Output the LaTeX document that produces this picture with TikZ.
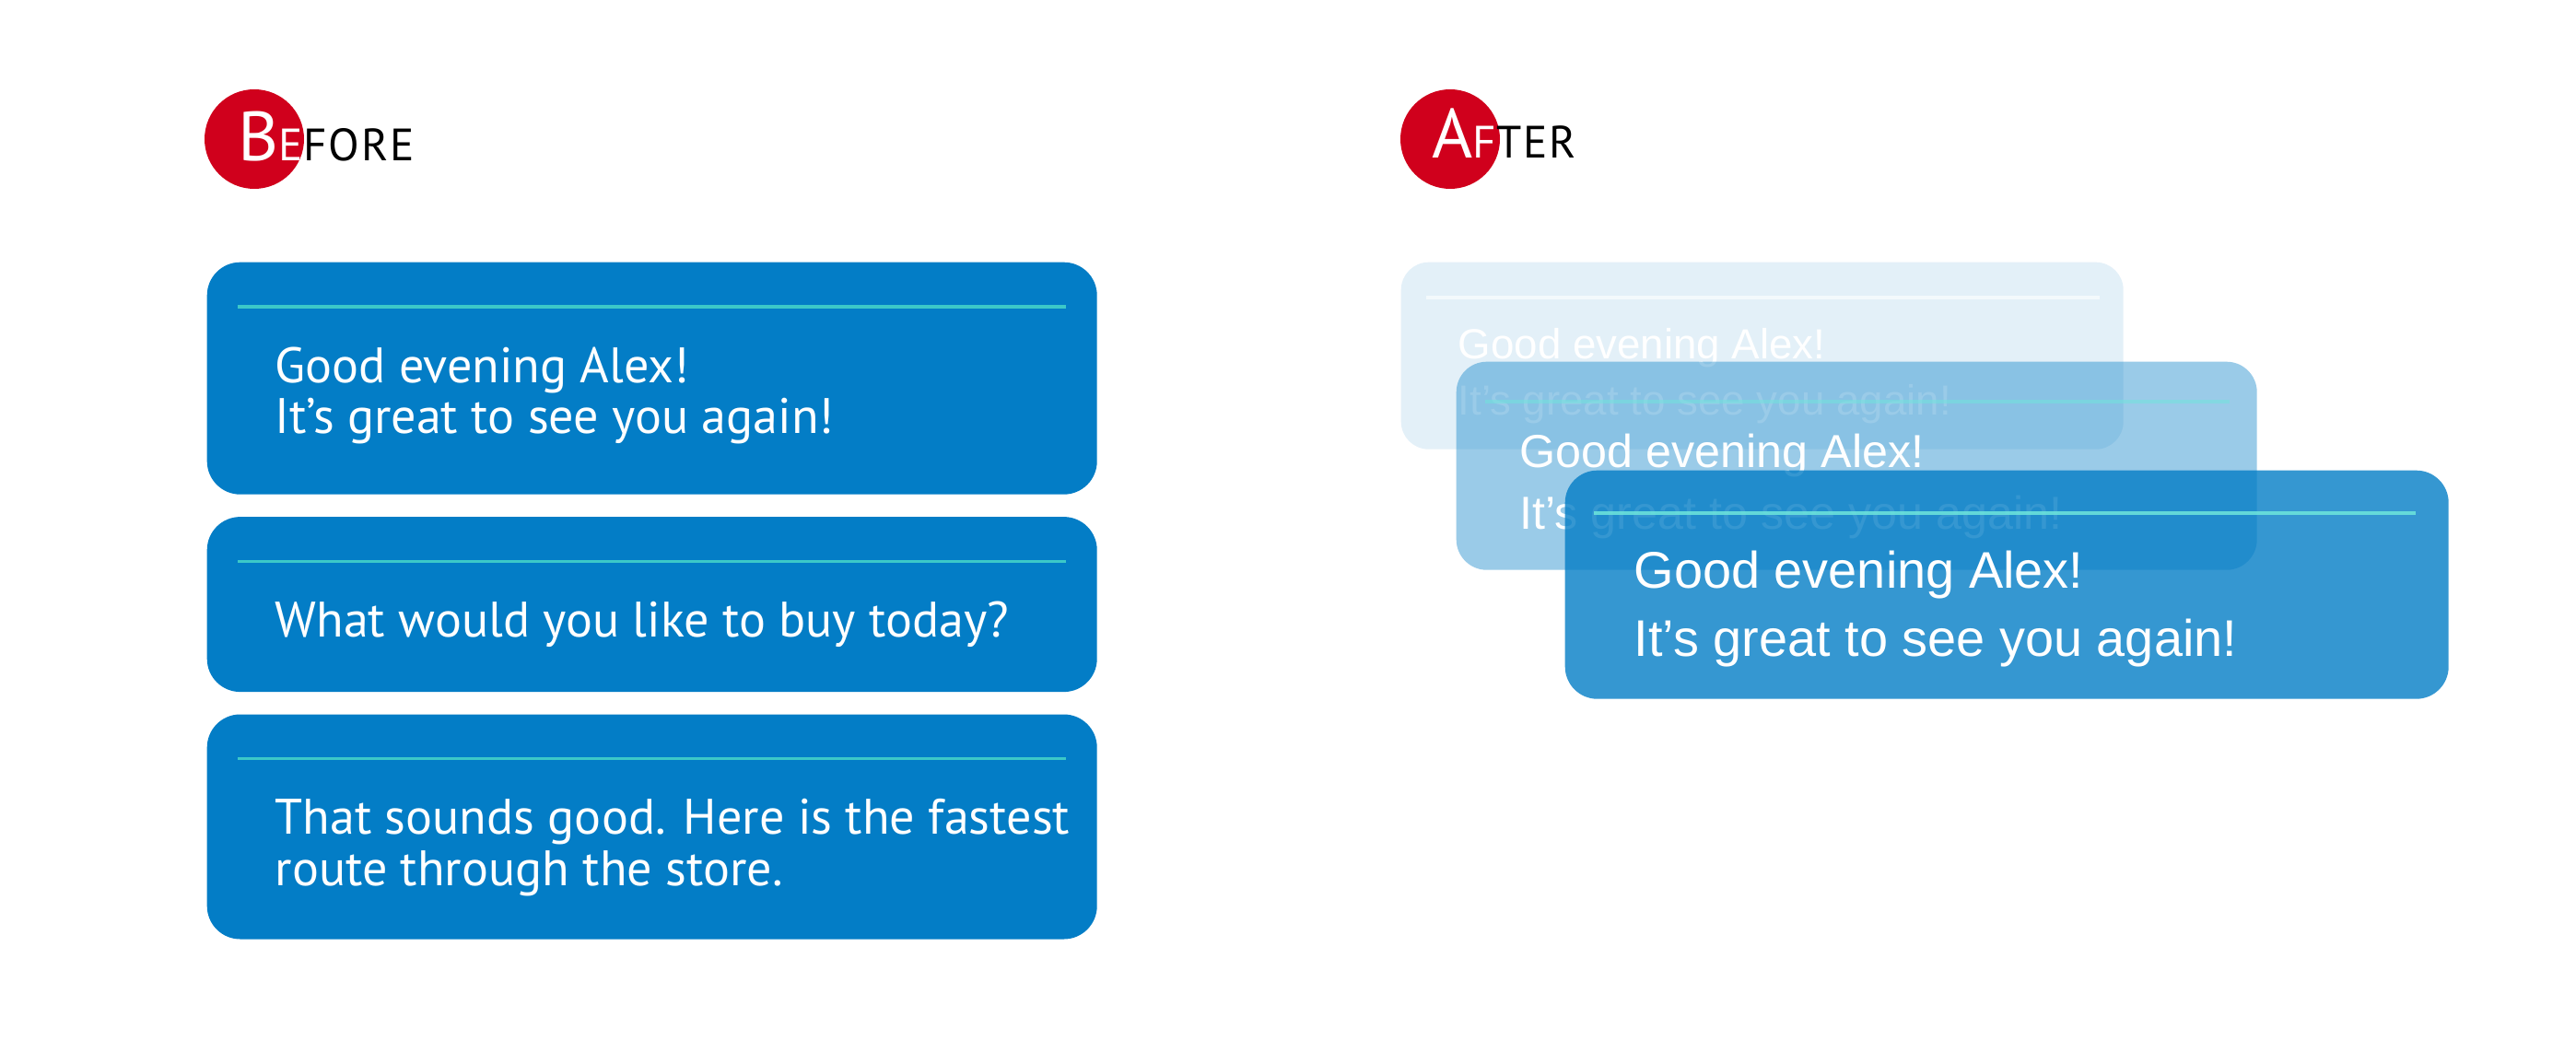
\documentclass[tikz,border=0pt]{standalone}
\usepackage{fontspec}
\setmainfont{PT Sans}
\newfontfamily\cardfont{Liberation Sans}
\newfontfamily\headfont[LetterSpace=4]{PT Sans}
\usetikzlibrary{positioning, calc}
\definecolor{cBlue}{RGB}{3,125,198}
\definecolor{cRule}{RGB}{60,200,200}
\definecolor{cRuleLight}{RGB}{110,230,220}
\definecolor{cBadge}{RGB}{208,0,28}
\tikzset{
	bubble/.style ={rectangle, rounded corners=0.36cm, fill=cBlue, inner sep=0pt, minimum width=9.66cm},
	card/.style   ={rectangle, rounded corners=0.33cm, fill=cBlue, inner sep=0pt, anchor=north west},
	rule/.style   ={draw=cRule, line width=0.9pt},
	msg/.style    ={anchor=base west, inner sep=0pt, align=left, text=white},
	badge/.style  ={circle, fill=cBadge, minimum size=1.08cm, inner sep=0pt},
	head/.style   ={anchor=base west, inner sep=0pt, font=\headfont\fontsize{14}{16}\selectfont},
}
\newcommand{\initial}[1]{{\fontsize{21.5}{24}\selectfont #1}}

\begin{document}
\begin{tikzpicture}[node distance=0.23cm]
	\fill[white] (0,0) rectangle (27.96,11.28);
	\useasboundingbox (0,0) rectangle (27.96,11.28);
	% before
	\node[badge] (bb) at (2.76,9.77) {};
	\node[head] (bt) at (2.58,9.53) {\textcolor{white}{\initial{B}E}FORE};
	\node[bubble, minimum height=2.52cm, anchor=north west] (b1) at (2.24,8.44) {};
	\node[bubble, minimum height=1.90cm, below=of b1] (b2) {};
	\node[bubble, minimum height=2.44cm, below=of b2] (b3) {};
	\foreach \b in {b1,b2,b3}
		\draw[rule] ($(\b.north west)+(0.34,-0.49)$) -- ($(\b.north east)+(-0.34,-0.49)$);
	% base anchor sits on the last line
	\node[msg, font=\fontsize{15.4}{15.9}\selectfont] (m1) at ($(b1.north west)+(0.74,-1.87)$) {Good evening Alex!\\It’s great to see you again!};
	\node[msg, font=\fontsize{15.4}{15.9}\selectfont] (m2) at ($(b2.north west)+(0.74,-1.31)$) {What would you like to buy today?};
	\node[msg, font=\fontsize{15.4}{15.9}\selectfont] (m3) at ($(b3.north west)+(0.74,-1.87)$) {That sounds good. Here is the fastest\\route through the store.};
	% after
	\node[badge] (ab) at (15.74,9.77) {};
	\node[head] (at) at (15.54,9.56) {\textcolor{white}{\initial{A}F}TER};
	\node[card, fill opacity=0.11, rounded corners=0.30cm, minimum width=7.84cm, minimum height=2.03cm] (c1) at (15.20,8.44) {};
	\draw[rule, draw=white, draw opacity=0.6] ($(c1.north west)+(0.28,-0.39)$) -- ($(c1.north east)+(-0.26,-0.39)$);
	\node[msg, font=\cardfont\fontsize{13}{17.4}\selectfont] (n1) at ($(c1.north west)+(0.62,-1.67)$) {Good evening Alex!\\It’s great to see you again!};
	\node[card, fill opacity=0.4, minimum width=8.69cm, minimum height=2.26cm] (c2) at (15.80,7.36) {};
	\draw[rule, draw=cRuleLight, draw opacity=0.5] ($(c2.north west)+(0.32,-0.44)$) -- ($(c2.north east)+(-0.30,-0.44)$);
	\node[msg, font=\cardfont\fontsize{14.3}{19.1}\selectfont] (n2) at ($(c2.north west)+(0.69,-1.83)$) {Good evening Alex!\\It’s great to see you again!};
	\node[card, fill opacity=0.8, rounded corners=0.35cm, minimum width=9.59cm, minimum height=2.48cm] (c3) at (16.98,6.18) {};
	\draw[rule, draw=cRuleLight, draw opacity=0.85] ($(c3.north west)+(0.32,-0.47)$) -- ($(c3.north east)+(-0.36,-0.47)$);
	\node[msg, font=\cardfont\fontsize{15.9}{21.3}\selectfont] (n3) at ($(c3.north west)+(0.75,-2.03)$) {Good evening Alex!\\It’s great to see you again!};
\end{tikzpicture}
\end{document}
